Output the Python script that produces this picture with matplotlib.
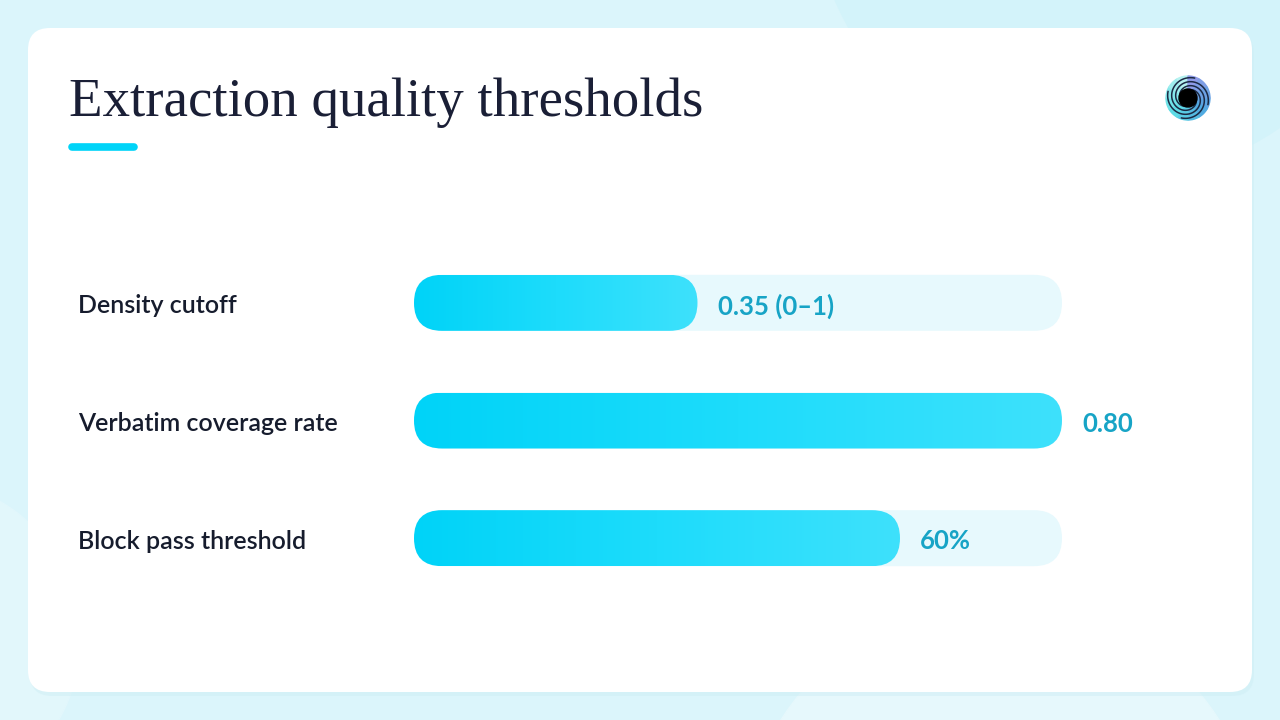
import numpy as np
import matplotlib
matplotlib.use("Agg")
import matplotlib.pyplot as plt
from matplotlib.patches import FancyBboxPatch, Circle, Wedge
from matplotlib.colors import LinearSegmentedColormap

# data
categories = ["Density cutoff", "Verbatim coverage rate", "Block pass threshold"]
values = [0.35, 0.80, 0.60]
value_labels = ["0.35 (0\u20131)", "0.80", "60%"]
title = "Extraction quality thresholds"

W, H = 1280, 720
fig = plt.figure(figsize=(12.8, 7.2), dpi=100)

# background + card, drawn in pixel coords
bg = fig.add_axes([0, 0, 1, 1])
bg.set_xlim(0, W)
bg.set_ylim(H, 0)
bg.axis("off")
bg.add_patch(plt.Rectangle((0, 0), W, H, color="#dbf5fb", zorder=0))
bg.add_patch(Circle((1110, -120), 300, color="#d3f3fa", zorder=0.5))
bg.add_patch(Circle((-80, 640), 160, color="#e2f7fb", zorder=0.5))
bg.add_patch(Circle((1000, 860), 260, color="#e6f8fc", zorder=0.5))
bg.add_patch(FancyBboxPatch((30, 32), 1224, 664, boxstyle="round,pad=0,rounding_size=22",
                            fc="#cfeef5", ec="none", alpha=0.5, zorder=1))
bg.add_patch(FancyBboxPatch((28, 28), 1224, 664, boxstyle="round,pad=0,rounding_size=22",
                            fc="white", ec="none", zorder=2))

# title and accent line
bg.text(69, 116, title, fontsize=39.5, family="Liberation Serif", color="#1a1f36",
        va="baseline", ha="left", zorder=3)
bg.plot([72, 134], [147, 147], color="#00d4f8", lw=5.5, solid_capstyle="round", zorder=3)

# logo
cx, cy = 1188, 98
ring = LinearSegmentedColormap.from_list("logo", ["#8f9be8", "#4fa6e0", "#5fe0e6", "#b6f2f0"])
for i, a in enumerate(np.arange(0, 360, 30)):
    bg.add_patch(Wedge((cx, cy), 22, a, a + 30, width=13,
                       color=ring(((i + 3) % 12) / 11), zorder=3))
for k in range(4):
    t = np.linspace(0, 1.6 * np.pi, 60) + k * np.pi / 2
    r = 8 + 13 * np.linspace(0, 1, 60)
    bg.plot(cx + r * np.cos(t), cy + r * np.sin(t), color="#1c2a44", lw=1.1, zorder=4)
bg.add_patch(Circle((cx, cy), 9, color="black", zorder=5))

# bar chart axes
x0, x1 = 414, 1062
y_top, y_bot = 244, 597
ax = fig.add_axes([x0 / W, 1 - y_bot / H, (x1 - x0) / W, (y_bot - y_top) / H])
ax.set_xlim(0, max(values))
ax.set_ylim(len(categories) - 0.5, -0.5)
ax.axis("off")

px_per_x = (x1 - x0) / max(values)
px_per_y = (y_bot - y_top) / len(categories)
bar_h = 56 / px_per_y
rx = 28 / px_per_x
aspect = px_per_x / px_per_y
dy = 3 / px_per_y  # nudge text down a bit

cmap = LinearSegmentedColormap.from_list("bar", ["#00d3f8", "#1ddcfb", "#3ee1fc"])
grad = np.linspace(0, 1, 256).reshape(1, -1)

for i, (v, lab) in enumerate(zip(values, value_labels)):
    track = FancyBboxPatch((0, i - bar_h / 2), max(values), bar_h,
                           boxstyle=f"round,pad=0,rounding_size={rx}",
                           mutation_aspect=aspect, fc="#e7f9fd", ec="none", zorder=1)
    ax.add_patch(track)
    fill = FancyBboxPatch((0, i - bar_h / 2), v, bar_h,
                          boxstyle=f"round,pad=0,rounding_size={rx}",
                          mutation_aspect=aspect, fc="none", ec="none", zorder=2)
    ax.add_patch(fill)
    im = ax.imshow(grad, cmap=cmap, aspect="auto", extent=(0, v, i + bar_h / 2, i - bar_h / 2),
                   zorder=2, interpolation="bilinear")
    im.set_clip_path(fill)
    ax.text(v + 20 / px_per_x, i + dy, lab, fontsize=18.5, family="Lato", fontweight="bold",
            color="#17a4c6", va="center", ha="left", zorder=3, clip_on=False)
    ax.text(-(x0 - 78) / px_per_x, i + dy, categories[i], fontsize=18, family="Lato",
            fontweight="semibold", color="#161c2d", va="center", ha="left", clip_on=False)

ax.set_xlim(0, max(values))
ax.set_ylim(len(categories) - 0.5, -0.5)

fig.savefig("out.png", dpi=100)
